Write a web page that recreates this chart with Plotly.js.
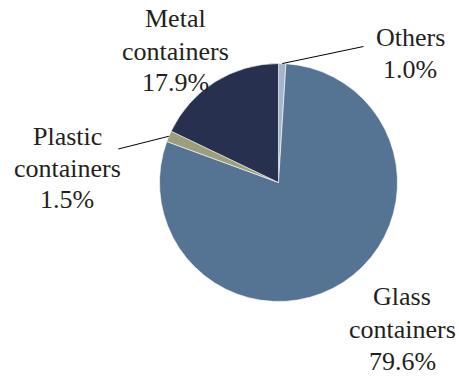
<!DOCTYPE html>
<html>
<head>
<meta charset="utf-8">
<script src="https://cdn.plot.ly/plotly-3.0.1.min.js"></script>
<style>
  html, body { margin: 0; padding: 0; background: #fff; }
  #chart { width: 459px; height: 376px; }
</style>
</head>
<body>
<div id="chart"></div>
<script>
// Packaging shares, listed clockwise from 12 o'clock
const categories = ['Others', 'Glass containers', 'Plastic containers', 'Metal containers'];
const shares = [1.0, 79.6, 1.5, 17.9];
const sliceColors = ['#a5b6cc', '#557393', '#9d9e7a', '#28304f'];

// Page geometry (pixels)
const W = 459, H = 376;
const CX = 278.5, CY = 182.5, R = 119;

// Label placement: centre x and baseline y of each text line, per category
const labelPos = {
  'Others':             { x: 410, baselines: [46.7, 78] },
  'Glass containers':   { x: 402, baselines: [305.7, 338, 370] },
  'Plastic containers': { x: 67,  baselines: [145, 177, 208] },
  'Metal containers':   { x: 175, baselines: [27.3, 60, 91] }
};
// Outer end of the leader lines (pixels)
const leaderEnds = {
  'Others': [363.5, 46.5],
  'Plastic containers': [118.3, 149]
};

const FONT = 26;
const px = x => x / W;
const py = y => 1 - y / H;

const annotations = [];
categories.forEach((name, i) => {
  const lines = name.split(' ').concat([shares[i].toFixed(1) + '%']);
  const pos = labelPos[name];
  lines.forEach((t, k) => {
    annotations.push({
      xref: 'paper', yref: 'paper',
      x: px(pos.x), y: py(pos.baselines[k] - 0.3375 * FONT),
      xanchor: 'center', yanchor: 'middle',
      text: t, showarrow: false, borderpad: 0,
      font: { family: 'Liberation Serif', size: FONT, color: '#231f20' }
    });
  });
});

// Leader lines start on the rim at the middle angle of their slice
const total = shares.reduce((a, b) => a + b, 0);
const shapes = [];
let cum = 0;
categories.forEach((name, i) => {
  const mid = (cum + shares[i] / 2) / total * 2 * Math.PI;
  cum += shares[i];
  if (!leaderEnds[name]) return;
  const sx = CX + R * Math.sin(mid), sy = CY - R * Math.cos(mid);
  const [ex, ey] = leaderEnds[name];
  shapes.push({
    type: 'line', xref: 'paper', yref: 'paper',
    x0: px(sx), y0: py(sy), x1: px(ex), y1: py(ey),
    line: { color: '#000', width: 1 }
  });
});

const trace = {
  type: 'pie',
  labels: categories,
  values: shares,
  sort: false,
  direction: 'clockwise',
  rotation: 0,
  textinfo: 'none',
  hoverinfo: 'label+percent',
  marker: { colors: sliceColors, line: { color: '#ffffff', width: 0.6 } },
  domain: { x: [px(CX - R), px(CX + R)], y: [py(CY + R), py(CY - R)] },
  showlegend: false
};

Plotly.newPlot('chart', [trace], {
  width: W, height: H,
  margin: { l: 0, r: 0, t: 0, b: 0 },
  paper_bgcolor: '#fff',
  plot_bgcolor: '#fff',
  showlegend: false,
  font: { family: 'Liberation Serif' },
  annotations: annotations,
  shapes: shapes
}, { displayModeBar: false, staticPlot: true });
</script>
</body>
</html>
